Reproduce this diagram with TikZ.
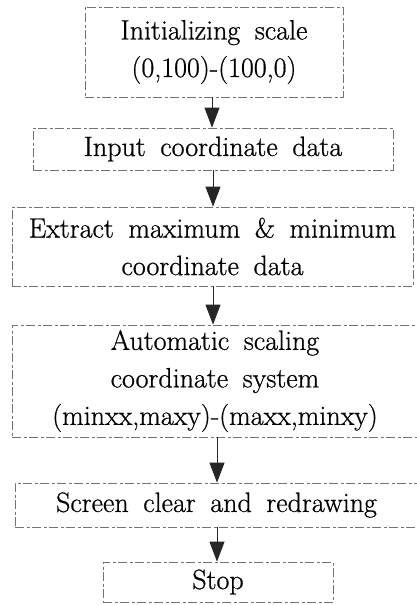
\documentclass[tikz,border=0pt]{standalone}
\usepackage{fontspec}
\usetikzlibrary{arrows.meta}
\newfontfamily\scanfont{Latin Modern Roman}[FakeBold=0.7]
\newcommand\boxfont{\scanfont\fontsize{28}{37.5}\selectfont\spaceskip=0.52em plus 0.1em\relax}
\begin{document}
\begin{tikzpicture}[x=1pt,y=-1pt,
  box/.style={draw=black!55, line width=0.8pt,
    dash pattern=on 9pt off 2.5pt on 3pt off 2.5pt,
    inner sep=0pt, align=center, text=black,
    font=\boxfont},
  arr/.style={draw=black!85, line width=1pt,
    -{Triangle[length=20pt,width=15pt]}}]
\useasboundingbox (0,0) rectangle (417,605);
\node[box, minimum width=258pt, minimum height=90pt] (b1) at (214,52)
  {Initializing scale\\(0,100)-(100,0)};
\node[box, minimum width=360pt, minimum height=42pt] (b2) at (213,149)
  {Input coordinate data};
\node[box, minimum width=401pt, minimum height=79pt] (b3) at (212.5,246.5)
  {Extract maximum \& minimum\\coordinate data};
\node[box, minimum width=406pt, minimum height=112pt] (b4) at (215,381)
  {Automatic scaling\\coordinate system\\(minxx,maxy)-(maxx,minxy)};
\node[box, minimum width=403pt, minimum height=44pt] (b5) at (216.5,505)
  {Screen clear and redrawing};
\node[box, minimum width=230pt, minimum height=40pt] (b6) at (218,582)
  {Stop};
\coordinate (x1) at (212,0);
\coordinate (x2) at (213,0);
\coordinate (x4) at (217,0);
\draw[arr] (b1.south -| x1) -- (b2.north -| x1);
\draw[arr] (b2.south -| x2) -- (b3.north -| x2);
\draw[arr] (b3.south -| x2) -- (b4.north -| x2);
\draw[arr] (b4.south -| x4) -- (b5.north -| x4);
\draw[arr] (b5.south -| x4) -- (b6.north -| x4);
\end{tikzpicture}
\end{document}
